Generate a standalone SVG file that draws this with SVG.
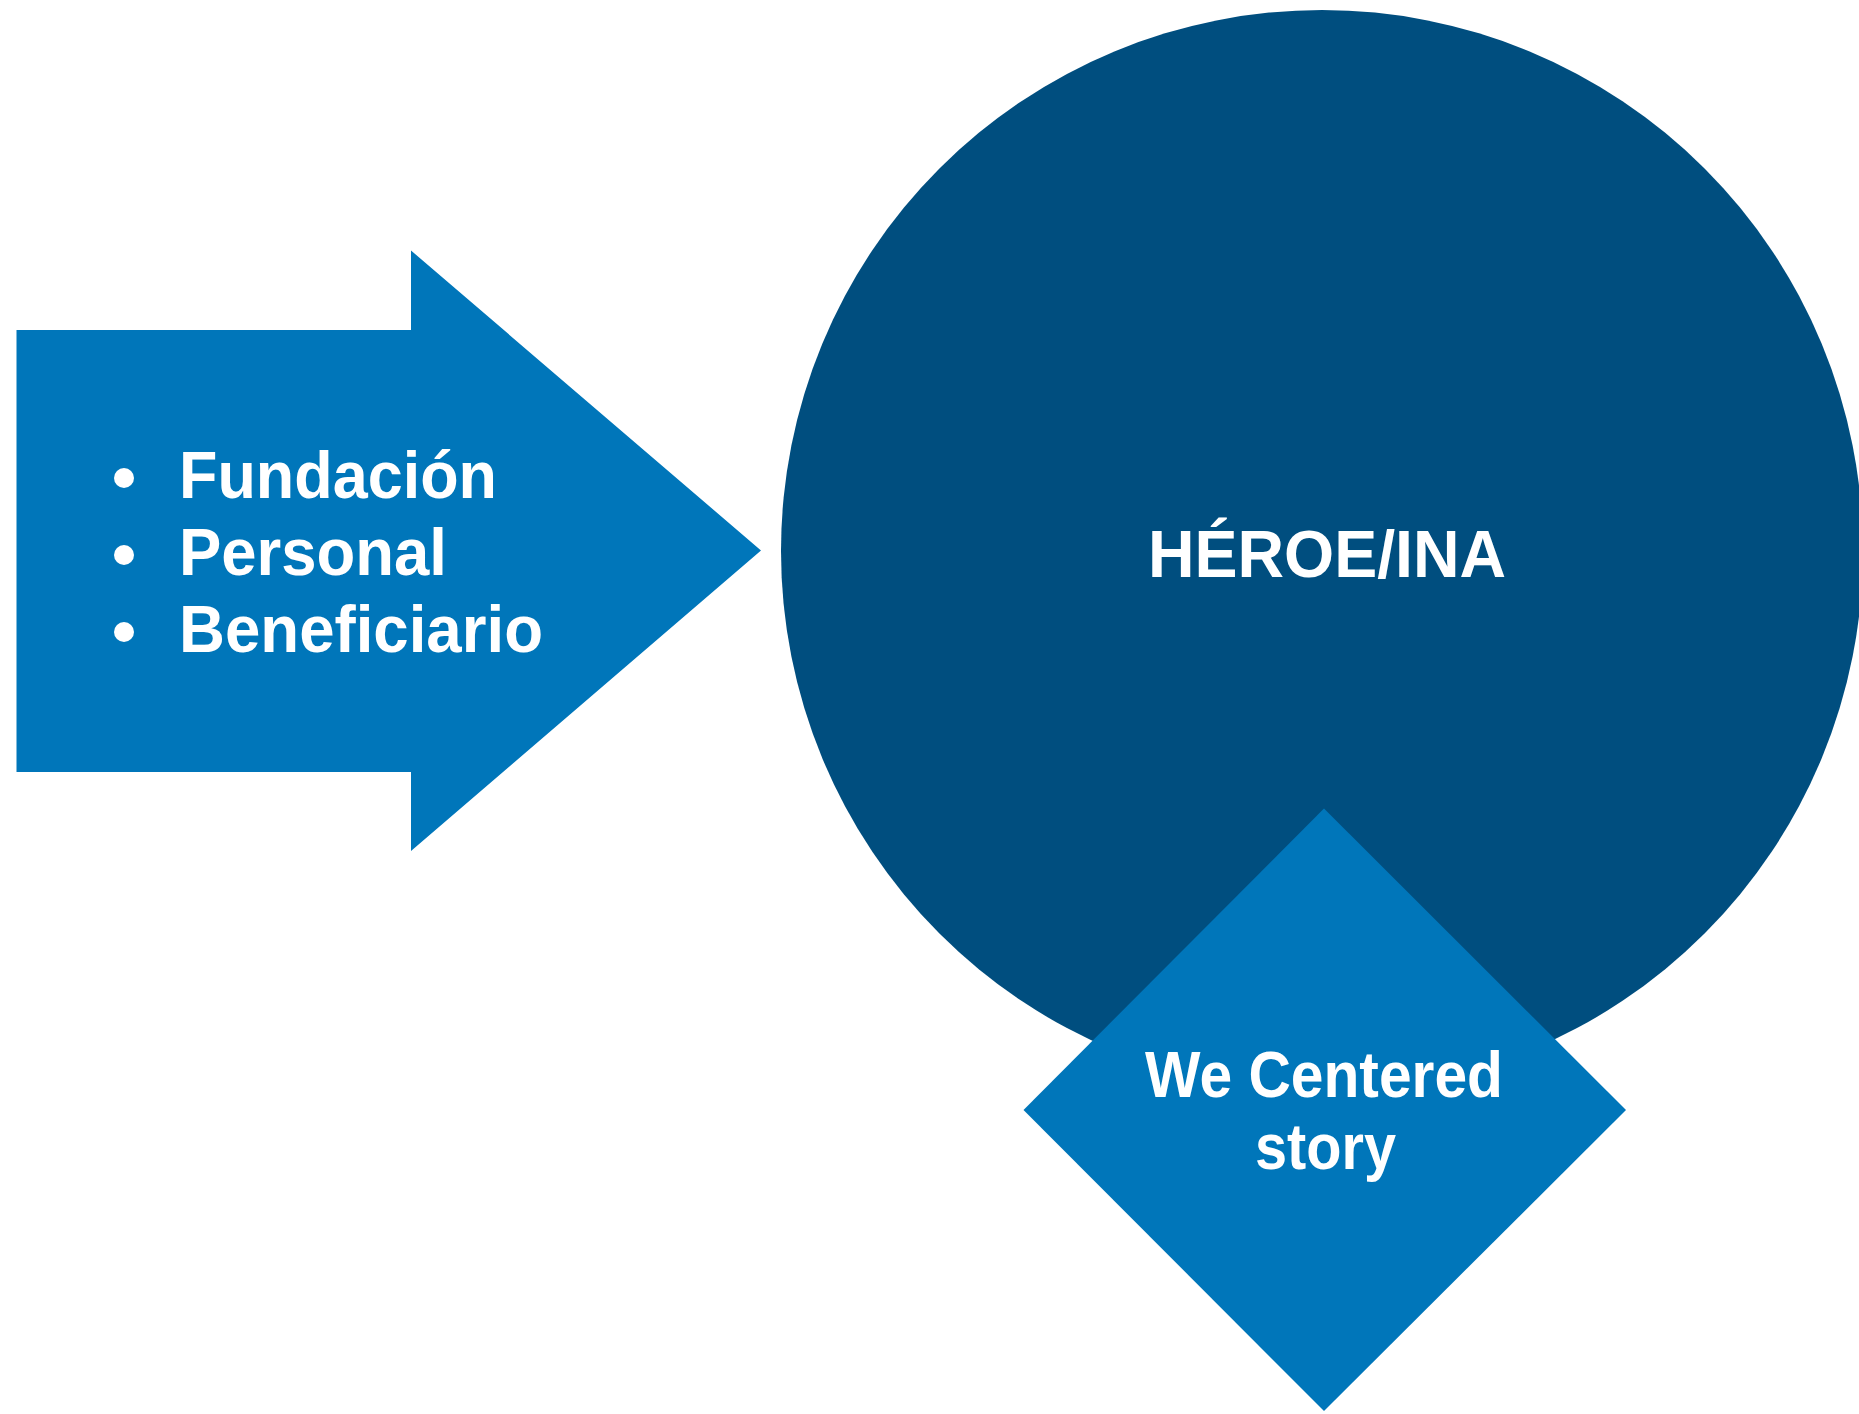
<svg xmlns="http://www.w3.org/2000/svg" width="1859" height="1414" viewBox="0 0 1859 1414">
<style>
.lt{fill:#0076BA}
.dk{fill:#004E7F}
.t{font-family:"Liberation Sans",Arial,Helvetica,sans-serif;font-weight:bold;fill:#FFFFFF}
</style>
<rect width="1859" height="1414" fill="#FFFFFF"/>
<g id="arrow">
<polygon class="lt" points="16.5,330 411,330 411,250.5 761,550.5 411,851 411,772 16.5,772"/>
<circle cx="124" cy="478" r="10" fill="#FFFFFF"/>
<circle cx="124" cy="555" r="10" fill="#FFFFFF"/>
<circle cx="124" cy="632" r="10" fill="#FFFFFF"/>
<text class="t" x="179" y="498" font-size="67" textLength="318" lengthAdjust="spacingAndGlyphs">Fundación</text>
<text class="t" x="179" y="575" font-size="67" textLength="268" lengthAdjust="spacingAndGlyphs">Personal</text>
<text class="t" x="179" y="652" font-size="67" textLength="364" lengthAdjust="spacingAndGlyphs">Beneficiario</text>
</g>
<g id="hero">
<circle class="dk" cx="1322" cy="551" r="541"/>
<text class="t" x="1148" y="577" font-size="66" textLength="358" lengthAdjust="spacingAndGlyphs">HÉROE/INA</text>
</g>
<g id="story">
<polygon class="lt" points="1324,808.5 1626,1110 1324,1411 1023.5,1110"/>
<text class="t" x="1145" y="1097" font-size="64" textLength="358" lengthAdjust="spacingAndGlyphs">We Centered</text>
<text class="t" x="1255" y="1169" font-size="64" textLength="141" lengthAdjust="spacingAndGlyphs">story</text>
</g>
<g id="connectors"/>
</svg>
